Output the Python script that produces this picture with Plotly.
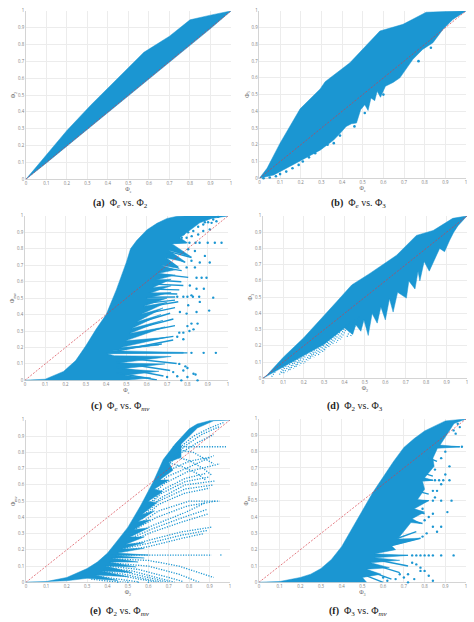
import plotly.graph_objects as go

TICKS = [0, 0.1, 0.2, 0.3, 0.4, 0.5, 0.6, 0.7, 0.8, 0.9, 1]
TICK_TEXT = ["0", "0.1", "0.2", "0.3", "0.4", "0.5", "0.6", "0.7", "0.8", "0.9", "1"]
DIAG = [0, 1]

# ---- panel (a)
a_up_x = [0, 0.1, 0.2, 0.316, 0.45, 0.575, 0.7, 0.80, 0.9, 1]
a_up_y = [0, 0.145, 0.29, 0.44, 0.60, 0.754, 0.85, 0.947, 0.975, 1]
a_lo_x = [0, 0.1, 0.2, 0.3, 0.4, 0.5, 0.6, 0.7, 0.8, 0.9, 1]
a_lo_y = [0, 0.097, 0.196, 0.295, 0.395, 0.492, 0.595, 0.695, 0.795, 0.895, 1]

# ---- panel (b)
b_up_x = [0, 0.037, 0.10, 0.197, 0.294, 0.318, 0.438, 0.583, 0.695, 0.807, 0.936, 1]
b_up_y = [0, 0.06, 0.21, 0.415, 0.534, 0.577, 0.69, 0.88, 0.92, 0.992, 0.998, 1]
b_lo_x = [0, 0.07, 0.15, 0.22, 0.294, 0.358, 0.39, 0.42, 0.446, 0.47, 0.49, 0.51, 0.526, 0.54, 0.558, 0.57, 0.586, 0.61, 0.647, 0.68, 0.695, 0.743, 0.79, 0.84, 0.888, 0.936, 1]
b_lo_y = [0, 0.02, 0.07, 0.12, 0.168, 0.227, 0.267, 0.31, 0.326, 0.33, 0.41, 0.44, 0.405, 0.48, 0.464, 0.52, 0.484, 0.55, 0.573, 0.60, 0.632, 0.711, 0.77, 0.81, 0.889, 0.949, 1]
b_dots_x = [0.02, 0.05, 0.08, 0.10, 0.13, 0.16, 0.19, 0.21, 0.24, 0.27, 0.30, 0.33, 0.36, 0.39, 0.46, 0.51, 0.60, 0.77, 0.83]
b_dots_y = [0.0, 0.005, 0.012, 0.025, 0.04, 0.06, 0.08, 0.10, 0.125, 0.15, 0.185, 0.20, 0.21, 0.255, 0.31, 0.39, 0.50, 0.70, 0.78]

# ---- panel (c)
c_up_x = [0, 0.1, 0.19, 0.25, 0.30, 0.35, 0.40, 0.45, 0.50, 0.52, 0.55, 0.60, 0.65, 0.70, 0.75, 0.80, 1]
c_up_y = [0, 0.007, 0.054, 0.12, 0.21, 0.31, 0.40, 0.55, 0.72, 0.80, 0.85, 0.915, 0.955, 0.985, 0.998, 1, 1]
c_lo_x = [0, 0.50, 0.62, 0.49, 0.66, 0.48, 0.69, 0.46, 0.72, 0.44, 0.405, 0.78, 0.78, 0.43, 0.66, 0.47, 0.70, 0.495, 0.69, 0.515, 0.68, 0.525, 0.67, 0.55, 0.68, 0.57, 0.70, 0.585, 0.70, 0.60, 0.72, 0.615, 0.72, 0.63, 0.72, 0.645, 0.74, 0.655, 0.74, 0.67, 0.76, 0.69, 0.79, 0.71, 0.82, 0.725, 0.80, 0.763, 0.861, 0.92, 1]
c_lo_y = [0, 0, 0.015, 0.03, 0.055, 0.07, 0.10, 0.105, 0.145, 0.15, 0.162, 0.165, 0.17, 0.18, 0.215, 0.20, 0.262, 0.24, 0.325, 0.285, 0.365, 0.315, 0.40, 0.355, 0.44, 0.40, 0.475, 0.45, 0.50, 0.50, 0.535, 0.53, 0.575, 0.565, 0.615, 0.61, 0.64, 0.65, 0.672, 0.70, 0.68, 0.745, 0.72, 0.79, 0.75, 0.83, 0.837, 0.867, 0.958, 0.985, 1]
c_ray_x = [
    [0.40, 0.80], [0.592, 0.739], [0.584, 0.755], [0.571, 0.739], [0.552, 0.715],
    [0.527, 0.731], [0.516, 0.739], [0.494, 0.731], [0.47, 0.674], [0.44, 0.73],
    [0.45, 0.747], [0.45, 0.715], [0.45, 0.682], [0.45, 0.65], [0.74, 0.796],
    [0.715, 0.82], [0.698, 0.788], [0.69, 0.755], [0.674, 0.772], [0.658, 0.804],
    [0.64, 0.77], [0.63, 0.78], [0.62, 0.76], [0.61, 0.75], [0.60, 0.74],
]
c_ray_y = [
    [0.167, 0.167], [0.468, 0.488], [0.442, 0.478], [0.398, 0.442], [0.347, 0.408],
    [0.307, 0.373], [0.277, 0.333], [0.223, 0.267], [0.191, 0.221], [0.175, 0.245],
    [0.142, 0.102], [0.11, 0.06], [0.08, 0.026], [0.046, 0.002], [0.837, 0.837],
    [0.781, 0.747], [0.767, 0.717], [0.747, 0.687], [0.687, 0.667], [0.647, 0.626],
    [0.61, 0.60], [0.585, 0.577], [0.555, 0.55], [0.53, 0.525], [0.505, 0.507],
]
c_dots_x = [0.78, 0.804, 0.829, 0.853, 0.878, 0.902, 0.927, 0.951, 0.772, 0.796, 0.821, 0.853, 0.878, 0.91, 0.919, 0.943, 0.886,
            0.81, 0.84, 0.86, 0.90, 0.935, 0.968, 0.804, 0.837, 0.886, 0.91, 0.861, 0.82, 0.796, 0.837,
            0.845, 0.87, 0.894, 0.881, 0.927, 0.907, 0.75, 0.78, 0.80, 0.827, 0.858, 0.845, 0.812, 0.861, 0.82, 0.804, 0.845, 0.796, 0.763,
            0.78, 0.81, 0.83, 0.85, 0.82, 0.80, 0.76, 0.78, 0.75, 0.82, 0.88, 0.94,
            0.76, 0.79, 0.80, 0.83, 0.84, 0.78, 0.80, 0.85, 0.73, 0.75, 0.70, 0.77]
c_dots_y = [0.888, 0.90, 0.908, 0.934, 0.948, 0.962, 0.978, 0.994, 0.867, 0.867, 0.877, 0.887, 0.908, 0.918, 0.958, 0.968, 0.962,
            0.837, 0.837, 0.837, 0.837, 0.837, 0.837, 0.797, 0.787, 0.757, 0.717, 0.717, 0.727, 0.687, 0.687,
            0.624, 0.624, 0.624, 0.557, 0.503, 0.424, 0.508, 0.508, 0.508, 0.508, 0.508, 0.557, 0.577, 0.477, 0.517, 0.457, 0.416, 0.406, 0.416,
            0.29, 0.30, 0.31, 0.345, 0.345, 0.33, 0.29, 0.25, 0.265, 0.167, 0.167, 0.167,
            0.10, 0.085, 0.075, 0.04, 0.035, 0.06, 0.02, 0.0, 0.05, 0.025, 0.02, 0.0]

# ---- panel (d)
d_up_x = [0, 0.02, 0.1, 0.2, 0.36, 0.435, 0.524, 0.655, 0.752, 0.834, 0.93, 1]
d_up_y = [0, 0.02, 0.13, 0.25, 0.47, 0.575, 0.646, 0.758, 0.88, 0.91, 0.985, 1]
d_lo_x = [0, 0.1, 0.2, 0.3, 0.40, 0.44, 0.455, 0.48, 0.495, 0.516, 0.535, 0.56, 0.578, 0.60, 0.62, 0.638, 0.66, 0.703, 0.715, 0.745, 0.76, 0.769, 0.79, 0.815, 0.834, 0.866, 0.89, 0.915, 0.935, 0.956, 1]
d_lo_y = [0, 0.07, 0.14, 0.21, 0.31, 0.27, 0.33, 0.29, 0.36, 0.264, 0.40, 0.34, 0.44, 0.36, 0.49, 0.408, 0.53, 0.494, 0.60, 0.55, 0.66, 0.60, 0.72, 0.66, 0.707, 0.80, 0.78, 0.85, 0.90, 0.94, 1]
d_ray_x = [[0.06, 0.04], [0.10, 0.08], [0.14, 0.10], [0.17, 0.13], [0.20, 0.16], [0.24, 0.20], [0.28, 0.23], [0.31, 0.27], [0.35, 0.30], [0.39, 0.34], [0.43, 0.38], [0.47, 0.43],
           [0.12, 0.09], [0.16, 0.12], [0.19, 0.15], [0.22, 0.18], [0.26, 0.22], [0.30, 0.25], [0.33, 0.29], [0.37, 0.32], [0.41, 0.36], [0.45, 0.41]]
d_ray_y = [[0.04, 0.005], [0.07, 0.02], [0.10, 0.03], [0.12, 0.05], [0.14, 0.07], [0.17, 0.09], [0.20, 0.12], [0.23, 0.14], [0.27, 0.17], [0.31, 0.21], [0.35, 0.24], [0.38, 0.26],
           [0.09, 0.03], [0.12, 0.04], [0.14, 0.06], [0.16, 0.08], [0.19, 0.11], [0.22, 0.13], [0.25, 0.16], [0.29, 0.19], [0.33, 0.22], [0.36, 0.25]]

# ---- panel (e)
e_up_x = [0, 0.1, 0.2, 0.3, 0.35, 0.4, 0.45, 0.5, 0.561, 0.624, 0.673, 0.732, 0.8, 0.839, 0.9, 1]
e_up_y = [0, 0.005, 0.03, 0.085, 0.125, 0.18, 0.26, 0.34, 0.47, 0.62, 0.756, 0.853, 0.945, 0.975, 0.995, 1]
e_lo_x = [0, 0.2, 0.3, 0.45, 0.34, 0.50, 0.37, 0.52, 0.39, 0.54, 0.41, 0.55, 0.42, 0.58, 0.44, 0.60, 0.45, 0.58, 0.47, 0.58, 0.49, 0.58, 0.51, 0.60, 0.53, 0.61, 0.55, 0.63, 0.57, 0.64, 0.60, 0.67, 0.63, 0.70, 0.655, 0.72, 0.70, 0.76, 0.76, 0.84, 0.92, 1]
e_lo_y = [0, 0.01, 0.025, 0.012, 0.045, 0.035, 0.07, 0.06, 0.10, 0.095, 0.125, 0.125, 0.15, 0.15, 0.165, 0.168, 0.18, 0.21, 0.205, 0.245, 0.235, 0.28, 0.28, 0.335, 0.325, 0.385, 0.375, 0.44, 0.42, 0.49, 0.50, 0.56, 0.575, 0.63, 0.63, 0.69, 0.74, 0.77, 0.85, 0.95, 0.995, 1]
e_ray_x = [
    [0.40, 0.91], [0.45, 0.60, 0.76, 0.87], [0.47, 0.60, 0.76, 0.89], [0.48, 0.60, 0.76, 0.91], [0.50, 0.62, 0.76, 0.89],
    [0.51, 0.62, 0.77, 0.89], [0.52, 0.62, 0.78, 0.88], [0.54, 0.64, 0.79, 0.93], [0.555, 0.65, 0.80, 0.95], [0.57, 0.65, 0.78, 0.90],
    [0.58, 0.65, 0.78, 0.92], [0.59, 0.66, 0.78, 0.93], [0.60, 0.66, 0.78, 0.90], [0.61, 0.67, 0.78, 0.88], [0.62, 0.68, 0.79, 0.95],
    [0.64, 0.69, 0.80, 0.92], [0.655, 0.70, 0.80, 0.90], [0.72, 0.98], [0.68, 0.75, 0.84, 0.92], [0.71, 0.78, 0.86, 0.95],
    [0.745, 0.82, 0.90, 0.97], [0.73, 0.82, 0.92], [0.71, 0.80, 0.87, 0.91], [0.69, 0.77, 0.84, 0.88],
    [0.42, 0.60, 0.75, 0.92], [0.41, 0.60, 0.75, 0.85], [0.40, 0.55, 0.70, 0.77], [0.38, 0.50, 0.65, 0.70],
    [0.36, 0.47, 0.60, 0.64], [0.34, 0.45, 0.55], [0.32, 0.42, 0.50], [0.39, 0.52, 0.67, 0.73], [0.37, 0.48, 0.62, 0.67],
]
e_ray_y = [
    [0.168, 0.168], [0.19, 0.22, 0.27, 0.30], [0.205, 0.24, 0.29, 0.32], [0.22, 0.26, 0.31, 0.34], [0.25, 0.31, 0.37, 0.42],
    [0.27, 0.33, 0.40, 0.45], [0.29, 0.35, 0.43, 0.49], [0.33, 0.40, 0.47, 0.50], [0.36, 0.44, 0.50, 0.50], [0.39, 0.48, 0.55, 0.58],
    [0.415, 0.50, 0.575, 0.60], [0.44, 0.52, 0.60, 0.625], [0.465, 0.545, 0.62, 0.65], [0.49, 0.57, 0.64, 0.67], [0.54, 0.61, 0.68, 0.73],
    [0.59, 0.65, 0.71, 0.78], [0.63, 0.69, 0.745, 0.77], [0.835, 0.835], [0.70, 0.79, 0.86, 0.91], [0.76, 0.84, 0.91, 0.96],
    [0.82, 0.90, 0.95, 0.985], [0.82, 0.80, 0.73], [0.78, 0.75, 0.70, 0.66], [0.74, 0.71, 0.67, 0.63],
    [0.145, 0.135, 0.10, 0.03], [0.12, 0.10, 0.05, 0.0], [0.10, 0.08, 0.03, 0.005], [0.08, 0.06, 0.015, 0.0],
    [0.06, 0.04, 0.01, 0.0], [0.04, 0.02, 0.003], [0.02, 0.005, 0.0], [0.09, 0.07, 0.02, 0.0], [0.07, 0.05, 0.012, 0.0],
]
e_dots_x = [0.955, 0.60, 0.55, 0.50, 0.45]
e_dots_y = [0.168, 0.0, 0.0, 0.0, 0.0]

# ---- panel (f)
f_up_x = [0, 0.1, 0.2, 0.25, 0.3, 0.35, 0.4, 0.45, 0.5, 0.55, 0.6, 0.65, 0.7, 0.75, 0.8, 0.85, 0.9, 1]
f_up_y = [0, 0.005, 0.03, 0.05, 0.085, 0.14, 0.22, 0.33, 0.44, 0.55, 0.645, 0.74, 0.826, 0.88, 0.927, 0.96, 0.988, 1]
f_lo_x = [0, 0.47, 0.52, 0.50, 0.59, 0.52, 0.63, 0.54, 0.68, 0.558, 0.72, 0.56, 0.66, 0.64, 0.78, 0.67, 0.734, 0.78, 0.74, 0.80, 0.75, 0.82, 0.766, 0.80, 0.79, 0.84, 0.80, 0.846, 0.84, 0.862, 0.97, 0.875, 0.942, 1]
f_lo_y = [0, 0, 0.0, 0.03, 0.05, 0.08, 0.09, 0.12, 0.135, 0.15, 0.165, 0.175, 0.20, 0.224, 0.27, 0.265, 0.366, 0.36, 0.39, 0.43, 0.45, 0.50, 0.507, 0.57, 0.618, 0.625, 0.64, 0.71, 0.76, 0.82, 0.83, 0.84, 0.972, 1]
f_ray_x = [[0.56, 0.72], [0.86, 0.97], [0.79, 0.84], [0.766, 0.82], [0.56, 0.72], [0.55, 0.68], [0.53, 0.64], [0.52, 0.60], [0.64, 0.78], [0.67, 0.76], [0.75, 0.80], [0.73, 0.79], [0.76, 0.82], [0.79, 0.84], [0.82, 0.86]]
f_ray_y = [[0.165, 0.165], [0.83, 0.83], [0.625, 0.625], [0.50, 0.50], [0.14, 0.10], [0.11, 0.06], [0.07, 0.02], [0.04, 0.0], [0.225, 0.27], [0.27, 0.31], [0.44, 0.42], [0.38, 0.36], [0.56, 0.54], [0.67, 0.65], [0.76, 0.74]]
f_dots_x = [0.74, 0.76, 0.78, 0.80, 0.82, 0.84, 0.88, 0.94, 0.98, 0.85, 0.87, 0.89, 0.92, 0.84, 0.88, 0.93, 0.91,
            0.84, 0.88, 0.86, 0.81, 0.79, 0.84, 0.82, 0.80, 0.79, 0.84, 0.85, 0.72, 0.70, 0.78, 0.82, 0.68,
            0.96, 0.97, 0.94, 0.95, 0.90, 0.88, 0.92, 0.90, 0.85, 0.88, 0.86, 0.74, 0.76, 0.78, 0.80, 0.84, 0.75, 0.72, 0.66, 0.62, 0.60]
f_dots_y = [0.165, 0.165, 0.165, 0.165, 0.165, 0.165, 0.165, 0.165, 0.83, 0.625, 0.625, 0.625, 0.625, 0.50, 0.50, 0.50, 0.43,
            0.34, 0.34, 0.31, 0.30, 0.28, 0.42, 0.40, 0.38, 0.45, 0.56, 0.52, 0.0, 0.03, 0.07, 0.04, 0.05,
            0.97, 0.95, 0.93, 0.91, 0.80, 0.76, 0.71, 0.66, 0.69, 0.60, 0.56, 0.12, 0.11, 0.09, 0.07, 0.01, 0.02, 0.05, 0.02, 0.01, 0.03]

W, H = 474, 622
BLUE = "#1b96d2"
RED = "rgba(214,60,70,0.85)"

PANELS = [
    dict(box=(25, 231, 178, 8), xt="Φ<sub>e</sub>", yt="Φ<sub>2</sub>", up=(a_up_x, a_up_y), lo=(a_lo_x, a_lo_y),
         cap="<b>(a)</b>  Φ<sub><i>e</i></sub> vs. Φ<sub>2</sub>", cx=120, cy=202),
    dict(box=(259.5, 467, 177, 8), xt="Φ<sub>e</sub>", yt="Φ<sub>3</sub>", up=(b_up_x, b_up_y), lo=(b_lo_x, b_lo_y),
         dots=(b_dots_x, b_dots_y), ds=2.6,
         cap="<b>(b)</b>  Φ<sub><i>e</i></sub> vs. Φ<sub>3</sub>", cx=359, cy=202),
    dict(box=(24, 228, 381, 215), xt="Φ<sub>e</sub>", yt="Φ<sub>mv</sub>", up=(c_up_x, c_up_y), lo=(c_lo_x, c_lo_y),
         rays=(c_ray_x, c_ray_y), rw=1.4, dots=(c_dots_x, c_dots_y), ds=2.4,
         cap="<b>(c)</b>  Φ<sub><i>e</i></sub> vs. Φ<sub><i>mv</i></sub>", cx=120, cy=407),
    dict(box=(263, 468, 379, 215), xt="Φ<sub>2</sub>", yt="Φ<sub>3</sub>", up=(d_up_x, d_up_y), lo=(d_lo_x, d_lo_y),
         rays=(d_ray_x, d_ray_y), rw=1.2, dash="1px,1.5px",
         cap="<b>(d)</b>  Φ<sub>2</sub> vs. Φ<sub>3</sub>", cx=355, cy=407),
    dict(box=(25, 230, 585, 421), xt="Φ<sub>2</sub>", yt="Φ<sub>mv</sub>", up=(e_up_x, e_up_y), lo=(e_lo_x, e_lo_y),
         rays=(e_ray_x, e_ray_y), rw=1.3, dash="1.2px,1.4px", dots=(e_dots_x, e_dots_y), ds=1.5,
         cap="<b>(e)</b>  Φ<sub>2</sub> vs. Φ<sub><i>mv</i></sub>", cx=120, cy=614),
    dict(box=(259, 467, 585, 420), xt="Φ<sub>3</sub>", yt="Φ<sub>mv</sub>", up=(f_up_x, f_up_y), lo=(f_lo_x, f_lo_y),
         rays=(f_ray_x, f_ray_y), rw=1.4, dots=(f_dots_x, f_dots_y), ds=2.4,
         cap="<b>(f)</b>  Φ<sub>3</sub> vs. Φ<sub><i>mv</i></sub>", cx=359, cy=614),
]

fig = go.Figure()
layout = dict(width=W, height=H, margin=dict(l=0, r=0, t=0, b=0), paper_bgcolor="white",
              plot_bgcolor="white", showlegend=False, annotations=[])

for i, p in enumerate(PANELS, 1):
    suffix = "" if i == 1 else str(i)
    xa, ya = "x" + suffix, "y" + suffix
    x0, x1, y0, y1 = p["box"]
    axis = dict(range=[0, 1], tickvals=TICKS, ticktext=TICK_TEXT, showgrid=True, gridcolor="#ececec",
                gridwidth=0.7, zeroline=False, showline=True, linecolor="#d4d4d4", linewidth=0.7,
                ticks="", tickfont=dict(size=4.4, color="#808080", family="Open Sans"),
                layer="below traces")
    layout["xaxis" + suffix] = dict(axis, domain=[x0 / W, x1 / W], anchor=ya,
                                    title=dict(text=p["xt"], standoff=1, font=dict(size=6, color="#666666", family="Liberation Serif")))
    layout["yaxis" + suffix] = dict(axis, domain=[1 - y0 / H, 1 - y1 / H], anchor=xa,
                                    title=dict(text=p["yt"], standoff=1, font=dict(size=6, color="#666666", family="Liberation Serif")))

    px = list(p["up"][0]) + list(reversed(p["lo"][0]))
    py = list(p["up"][1]) + list(reversed(p["lo"][1]))
    fig.add_trace(go.Scatter(x=px, y=py, xaxis=xa, yaxis=ya, mode="lines", fill="toself", fillcolor=BLUE,
                             line=dict(color=BLUE, width=0.5), hoverinfo="skip"))
    if "rays" in p:
        rx, ry = [], []
        for a, b in zip(*p["rays"]):
            rx += list(a) + [None]
            ry += list(b) + [None]
        fig.add_trace(go.Scatter(x=rx, y=ry, xaxis=xa, yaxis=ya, mode="lines", hoverinfo="skip", cliponaxis=False,
                                 line=dict(color=BLUE, width=p["rw"], dash=p.get("dash", "solid"))))
    if "dots" in p:
        fig.add_trace(go.Scatter(x=p["dots"][0], y=p["dots"][1], xaxis=xa, yaxis=ya, mode="markers", hoverinfo="skip",
                                 cliponaxis=False, marker=dict(color=BLUE, size=p["ds"])))
    fig.add_trace(go.Scatter(x=DIAG, y=DIAG, xaxis=xa, yaxis=ya, mode="lines", hoverinfo="skip",
                             line=dict(color=RED, width=0.8, dash="2px,1.5px")))
    layout["annotations"].append(dict(text=p["cap"], xref="paper", yref="paper", x=p["cx"] / W, y=1 - p["cy"] / H,
                                      showarrow=False, xanchor="center", yanchor="middle",
                                      font=dict(size=10, color="#222222", family="Liberation Serif")))

fig.update_layout(**layout)
fig.write_html("out.html", config=dict(displayModeBar=False),
               post_script="document.body.style.margin='0';document.body.style.overflow='hidden';")
